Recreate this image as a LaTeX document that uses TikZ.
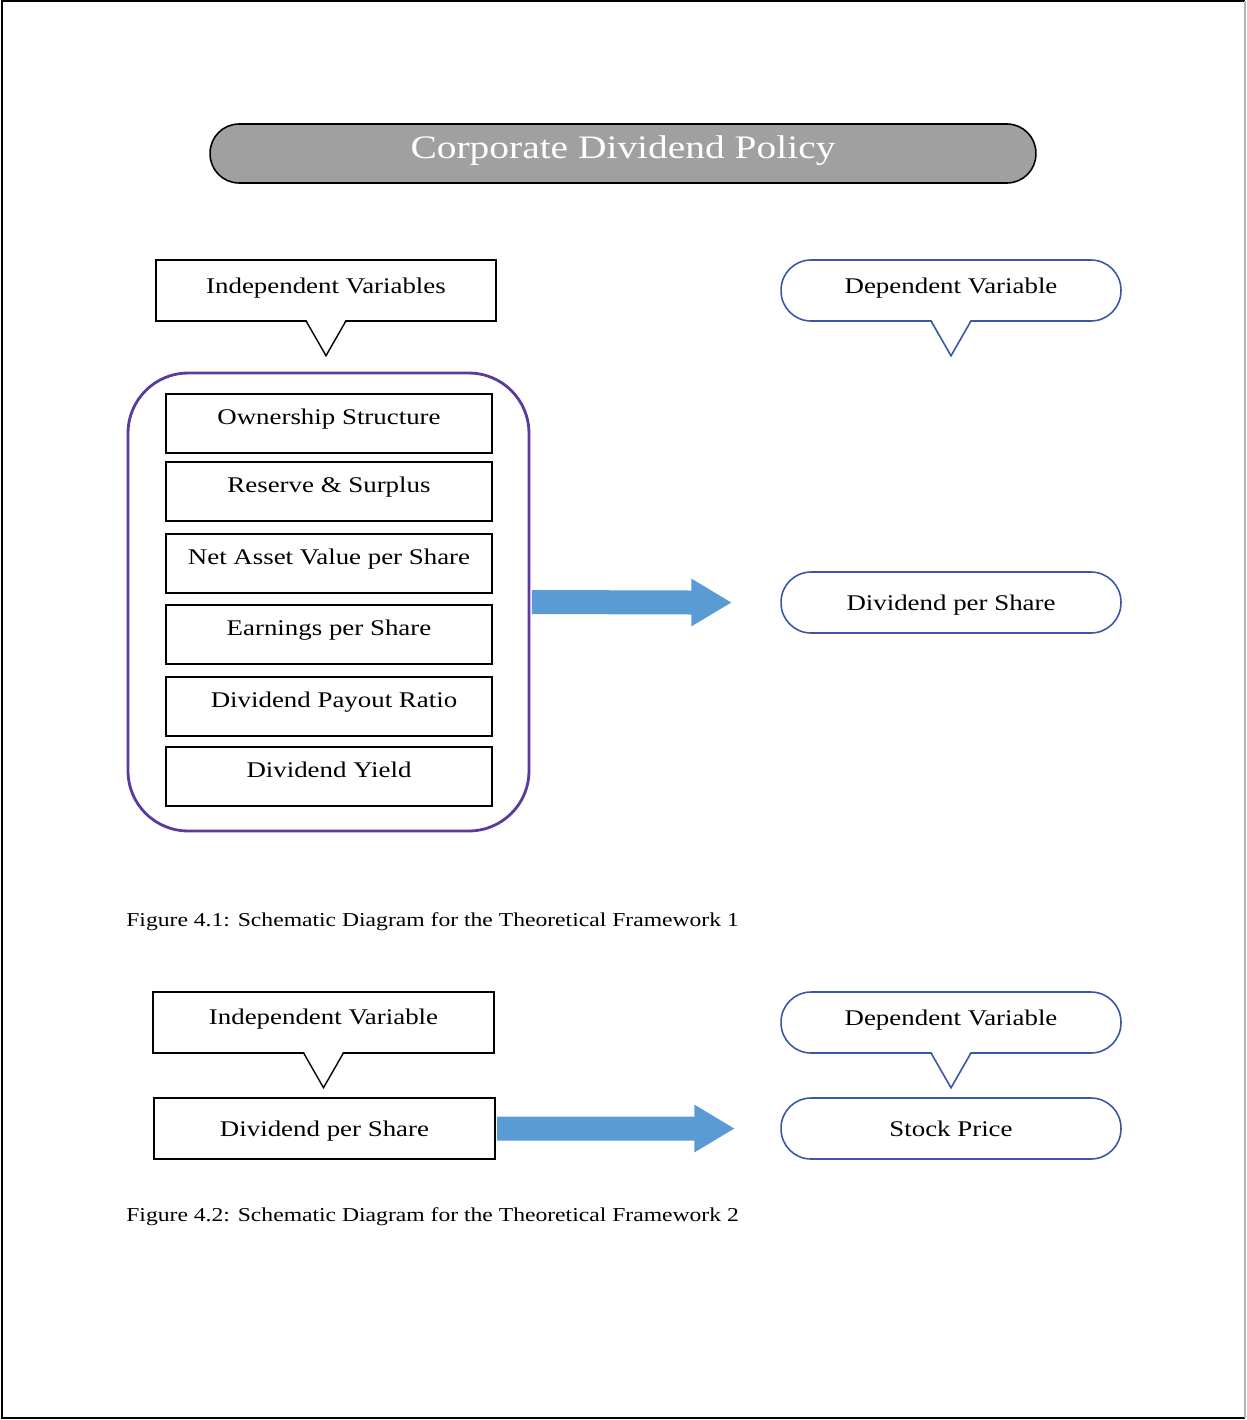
\documentclass[tikz,border=0pt]{standalone}
\usepackage{fontspec}
\setmainfont{Liberation Serif}[FakeStretch=1.2]
\usetikzlibrary{calc}

\definecolor{titlegray}{HTML}{A0A0A0}
\definecolor{dvblue}{HTML}{3A56A8}
\definecolor{grouppurple}{HTML}{5B3A9E}
\definecolor{arrowblue}{HTML}{5B9BD5}

% pointer under a callout box: node, line style
\newcommand{\calloutpin}[2]{%
  \fill[white] ($(#1.south)+(-19.5,-2)$) -- ($(#1.south)+(19.5,-2)$) -- ($(#1.south)+(0,34)$) -- cycle;
  \draw[#2] ($(#1.south)+(-19.5,0)$) -- ($(#1.south)+(0,34)$) -- ($(#1.south)+(19.5,0)$);}
% wide block arrow: from, to, gap before the target
\newcommand{\blockarrow}[3]{%
  \fill[arrowblue] ($(#1)+(1.5,-12)$) -- ($(#2)+(-#3-40,-12)$) -- ($(#2)+(-#3-40,-24)$)
    -- ($(#2)+(-#3,0)$) -- ($(#2)+(-#3-40,24)$) -- ($(#2)+(-#3-40,12)$) -- ($(#1)+(1.5,12)$) -- cycle;}

\begin{document}
\begin{tikzpicture}[x=0.02cm, y=-0.02cm]

      \tikzset{plain/.style={draw, line width=0.8pt, inner sep=0pt, font=\fontsize{12.75}{15}\selectfont},
               varbox/.style={plain, minimum width=6.52cm, minimum height=1.18cm, text height=0.6cm, text depth=0.58cm},
               callbox/.style={plain, fill=white, minimum width=6.8cm, minimum height=1.22cm, text height=0.66cm, text depth=0.56cm},
               roundbox/.style={plain, draw=dvblue, line width=0.9pt, fill=white, rounded corners=0.6cm},
               caption/.style={anchor=base west, inner sep=0pt, font=\fontsize{11.2}{13}\selectfont}}
      \useasboundingbox (0,0) rectangle (1247,1420);
%% Frame
      \draw[line width=1.1pt] (1245,1) -- (2,1) -- (2,1418) -- (1245,1418);
      \draw[black!30, line width=1.1pt] (1245,1) -- (1245,1418);

%% Title
      \node[draw, line width=0.9pt, fill=titlegray, rounded corners=0.58cm, inner sep=0pt, text=white,
            minimum width=16.52cm, minimum height=1.18cm, text height=0.68cm, text depth=0.5cm,
            font=\fontsize{18.7}{22}\selectfont] (title) at (623,153.5) {Corporate Dividend Policy};

%% Framework 1
      \node[callbox] (iv) at (326,290.5) {Independent Variables};
      \node[roundbox, minimum width=6.8cm, minimum height=1.22cm, text height=0.66cm, text depth=0.56cm] (dv) at (951,290.5) {Dependent Variable};
      \calloutpin{iv}{line width=0.8pt}
      \calloutpin{dv}{draw=dvblue, line width=0.9pt}

      \node[draw=grouppurple, line width=1.6pt, rounded corners=1.2cm, minimum width=8.02cm, minimum height=9.16cm] (ivgroup) at (328.5,602) {};
      	\node[varbox] (own) at (329,423.5) {Ownership Structure};
      	\node[varbox] (res) at (329,491.5) {Reserve \& Surplus};
      	\node[varbox] (nav) at (329,563.5) {Net Asset Value per Share};
      	\node[varbox] (eps) at (329,634.5) {Earnings per Share};
      	\node[varbox] (dpr) at (329,706.5) {\hspace{0.2cm}Dividend Payout Ratio};
      	\node[varbox] (dy) at (329,776.5) {Dividend Yield};

      \node[roundbox, minimum width=6.8cm, minimum height=1.22cm, text height=0.76cm, text depth=0.46cm] (dps) at (951,602.5) {Dividend per Share};
%Arrows
      \blockarrow{ivgroup.east}{dps.west}{49}

      \node[caption] (cap1) at (126,926) {Figure 4.1: Schematic Diagram for the Theoretical Framework 1};

%% Framework 2
      \node[callbox, minimum width=6.82cm, text height=0.64cm, text depth=0.58cm] (ivb) at (323.5,1022.5) {Independent Variable};
      \node[roundbox, minimum width=6.8cm, minimum height=1.22cm, text height=0.66cm, text depth=0.56cm] (dvb) at (951,1022.5) {Dependent Variable};
      \node[callbox, minimum width=6.82cm, text height=0.76cm, text depth=0.46cm] (dpsb) at (324.5,1128.5) {Dividend per Share};
      \node[roundbox, minimum width=6.8cm, minimum height=1.22cm, text height=0.76cm, text depth=0.46cm] (sp) at (951,1128.5) {Stock Price};
      \calloutpin{ivb}{line width=0.8pt}
      \calloutpin{dvb}{draw=dvblue, line width=0.9pt}
%Arrows
      \blockarrow{dpsb.east}{sp.west}{46}

      \node[caption] (cap2) at (126,1221) {Figure 4.2: Schematic Diagram for the Theoretical Framework 2};
	\end{tikzpicture}
\end{document}
